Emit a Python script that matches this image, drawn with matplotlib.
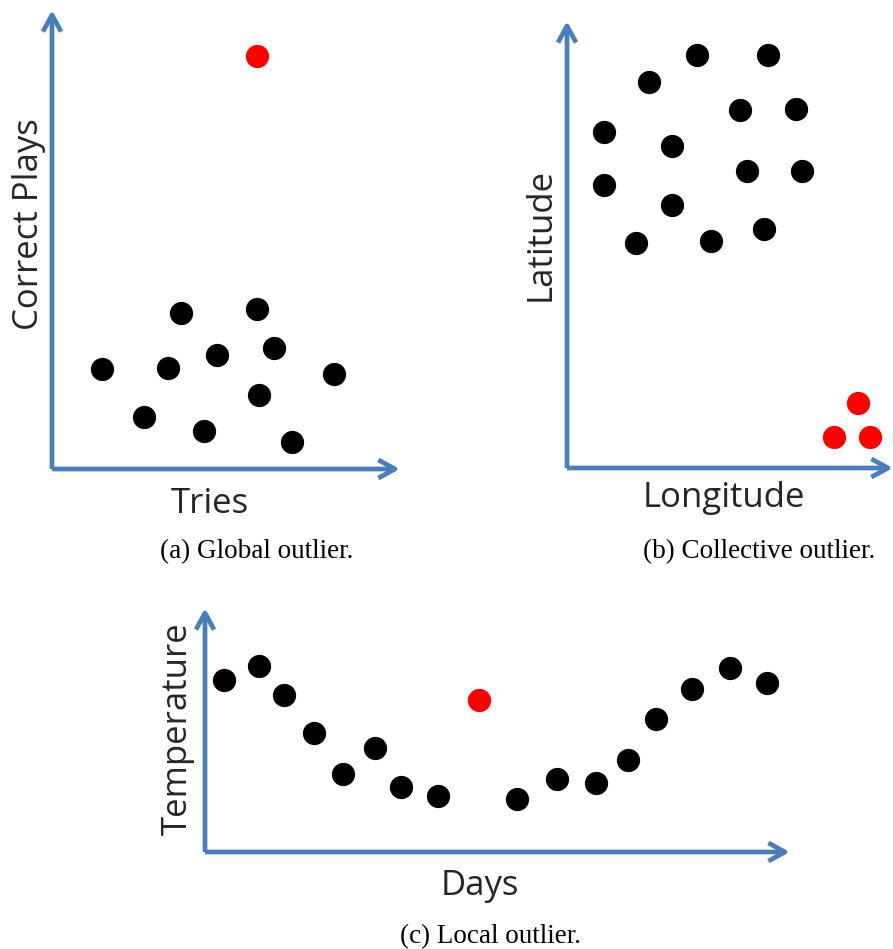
import matplotlib
matplotlib.use("Agg")
import matplotlib.pyplot as plt

W, H = 893, 949

# Panel (a): Global outlier
a_black_x = [50, 129, 205, 116, 165, 222, 282, 92, 152, 207, 240]
a_black_y = [100, 156, 160, 101, 114, 121, 95, 52, 38, 74, 27]
a_red_x = [205]
a_red_y = [413]

# Panel (b): Collective outlier
b_black_x = [37, 82, 130, 201, 173, 229, 37, 105, 180, 235, 105, 69, 144, 197]
b_black_y = [336, 386, 413, 413, 358, 359, 283, 322, 297, 297, 263, 225, 227, 239]
b_red_x = [291, 267, 303]
b_red_y = [65, 31, 31]

# Panel (c): Local outlier
c_black_x = [19, 54, 79, 109, 138, 170, 196, 233, 312, 352, 391, 423, 451, 487, 525, 562]
c_black_y = [172, 186, 157, 119, 78, 104, 65, 56, 53, 73, 69, 92, 133, 163, 184, 169]
c_red_x = [274]
c_red_y = [152]

BLUE = "#4a7ebb"
TXT = "#262626"
MS = 280

fig = plt.figure(figsize=(W / 100, H / 100), dpi=100)
fig.patch.set_facecolor("white")


def make_panel(ox, oy, xlen, ylen, bx, by, rx, ry, xlabel, ylabel, xl_pos, yl_pos):
    ax = fig.add_axes([ox / W, (H - oy) / H, xlen / W, ylen / H])
    ax.set_xlim(0, xlen)
    ax.set_ylim(0, ylen)
    ax.axis("off")
    for end in [(xlen, 0), (0, ylen)]:
        ax.annotate("", xy=end, xytext=(0, 0),
                    arrowprops=dict(arrowstyle="->,head_length=1.2,head_width=0.65",
                                    color=BLUE, lw=3.4, shrinkA=0, shrinkB=0,
                                    mutation_scale=10, capstyle="butt"),
                    annotation_clip=False)
    ax.scatter(bx, by, s=MS, color="black", zorder=3, clip_on=False, linewidths=0)
    ax.scatter(rx, ry, s=MS, color="red", zorder=3, clip_on=False, linewidths=0)
    fig.text(xl_pos[0] / W, 1 - xl_pos[1] / H, xlabel, ha="center", va="baseline",
             fontsize=25, family="Open Sans", color=TXT)
    fig.text(yl_pos[0] / W, 1 - yl_pos[1] / H, ylabel, ha="center", va="center",
             fontsize=25, family="Open Sans", color=TXT, rotation=90)
    return ax


make_panel(52, 469, 348, 459, a_black_x, a_black_y, a_red_x, a_red_y,
           "Tries", "Correct Plays", (210, 513), (29, 224))
make_panel(567, 468, 326, 447, b_black_x, b_black_y, b_red_x, b_red_y,
           "Longitude", "Latitude", (724, 507), (541, 234))
make_panel(205, 852, 585, 244, c_black_x, c_black_y, c_red_x, c_red_y,
           "Days", "Temperature", (480, 895), (178, 729))

cap = dict(ha="center", va="baseline", fontsize=19.5, family="Liberation Serif", color="black")
fig.text(257 / W, 1 - 558 / H, "(a) Global outlier.", **cap)
fig.text(759 / W, 1 - 558 / H, "(b) Collective outlier.", **cap)
fig.text(490 / W, 1 - 943 / H, "(c) Local outlier.", **cap)

fig.savefig("out.png", dpi=100)
